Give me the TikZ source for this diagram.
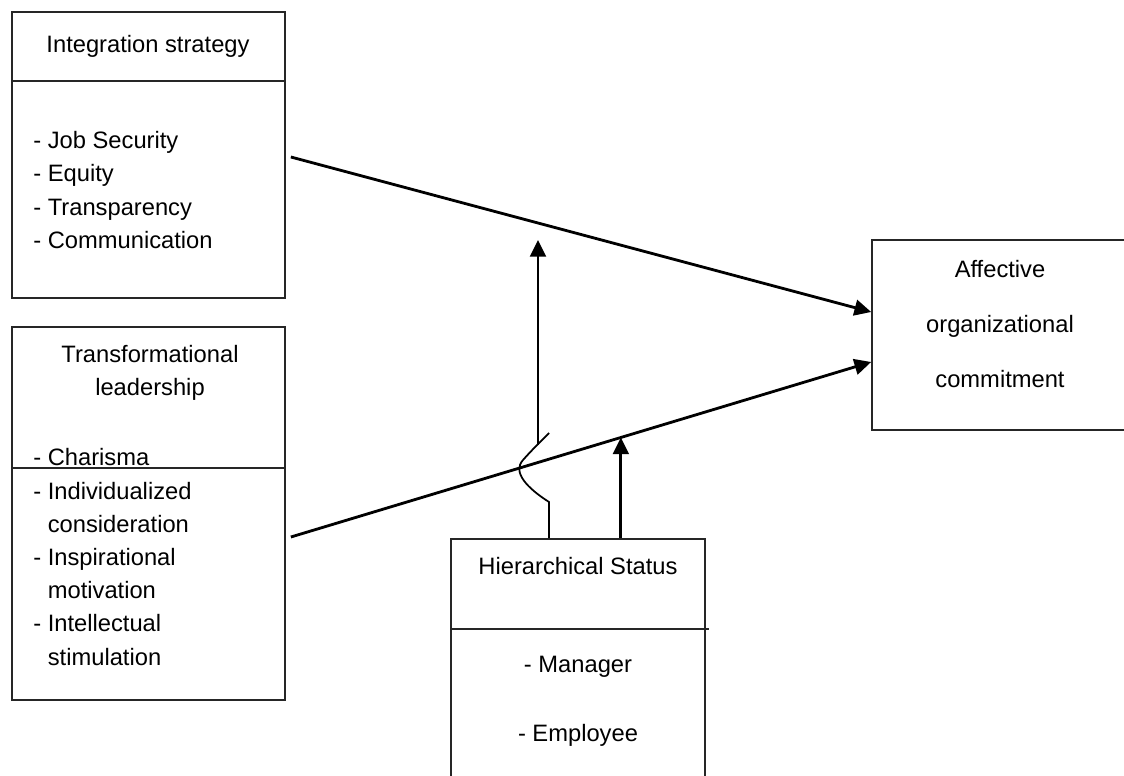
\documentclass[tikz,border=0pt]{standalone}
\usepackage{fontspec}
\setmainfont{Liberation Sans}
\usepackage{tikz}
\usetikzlibrary{arrows.meta,positioning,calc}
\tikzset{box/.style={draw=black!85,line width=1pt,inner sep=0pt},
         txt/.style={inner sep=0pt,align=left,font=\fontsize{13.5}{18.9}\selectfont},
         ctxt/.style={inner sep=0pt,align=center,font=\fontsize{13.5}{18.9}\selectfont},
         arr/.style={line width=1.6pt,-{Triangle[length=9.5pt,width=9pt]}}}

\begin{document}
\begin{tikzpicture}[x=0.02cm, y=-0.02cm]
        \useasboundingbox (0,0) rectangle (1124,776);
        % boxes
        \node[box,minimum width=5.46cm,minimum height=5.72cm] (integ) at (148.5,155) {};
        \node[box,minimum width=5.46cm,minimum height=7.46cm] (trans) at (148.5,513.5) {};
        \node[box,minimum width=5.08cm,minimum height=5.4cm] (hier) at (578,674) {};
        \node[box,minimum width=5.6cm,minimum height=3.8cm] (affect) at (1012,335) {};
        \draw[line width=1pt,draw=black!85] (integ.west |- 0,81) -- (integ.east |- 0,81);
        \draw[line width=1pt,draw=black!85] (trans.west |- 0,468) -- (trans.east |- 0,468);
        \draw[line width=1pt,draw=black!85] (hier.west |- 0,629) -- ([xshift=0.06cm]hier.east |- 0,629);
        % texts
        \node[ctxt] (integtitle) at (148,46) {Integration strategy};
        \node[txt,anchor=west] (integlist) at (33,190) {- Job Security\\- Equity\\- Transparency\\- Communication};
        \node[ctxt] (transtitle) at (150,373) {Transformational\\leadership};
        \node[txt,anchor=west] (translist) at (33,557) {- Charisma\\- Individualized\\\hphantom{- }consideration\\- Inspirational\\\hphantom{- }motivation\\- Intellectual\\\hphantom{- }stimulation};
        \node[ctxt] (hiertitle) at (578,566) {Hierarchical Status};
        \node[ctxt] (manager) at (578,667) {- Manager};
        \node[ctxt] (employee) at (578,735) {- Employee};
        \node[ctxt,font=\fontsize{13.5}{31.5}\selectfont] (affecttitle) at (1000,324) {Affective\\organizational\\commitment};
        % connectors
        \coordinate (s1) at ([xshift=0.1cm]integ.east |- 0,157);
        \coordinate (e1) at (affect.west |- 0,312);
        \coordinate (s2) at ([xshift=0.1cm]trans.east |- 0,537);
        \coordinate (e2) at (affect.west |- 0,362);
        \draw[arr] (s1) -- (e1);
        \draw[arr] (s2) -- (e2);
        \coordinate (m2) at ($(s2)!0.5687!(e2)$);
        \draw[arr] (hier.north -| m2) -- (m2);
        % moderator on first path, hopping over the second
        \coordinate (h0) at (hier.north -| 549,0);
        \coordinate (h1) at (549,502);
        \coordinate (h2) at (538,445);
        \coordinate (m1) at (538,240);
        \draw[line width=1pt] (h0) -- (h1) .. controls (527,488) and (512,472) .. (523,460)
            .. controls (530,452) and (540,442) .. (549,433);
        \draw[arr] (h2) -- (m1);
\end{tikzpicture}
\end{document}
